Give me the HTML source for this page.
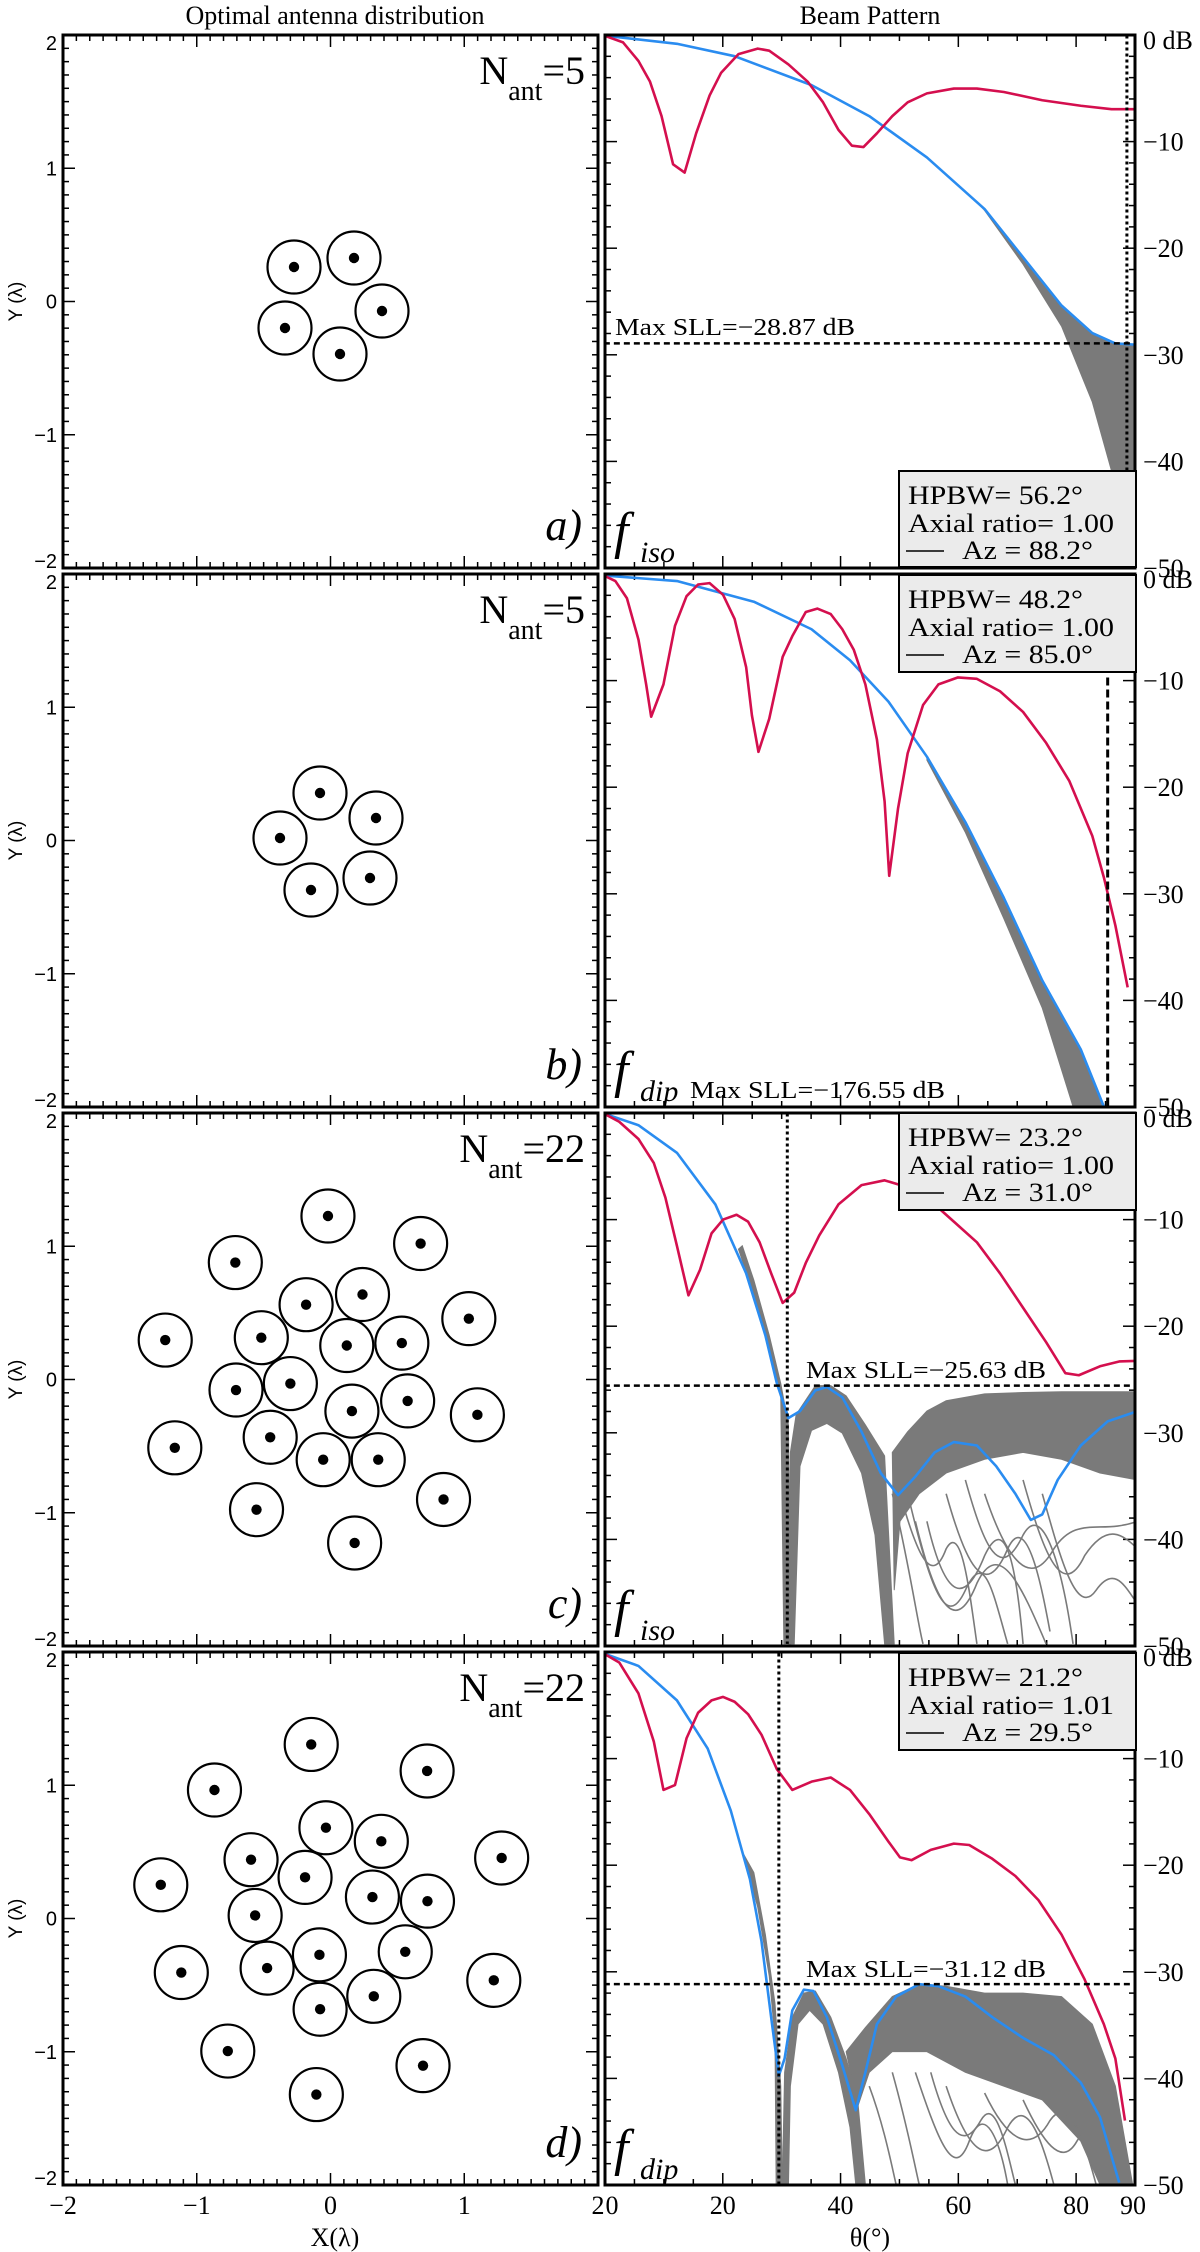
<!DOCTYPE html>
<html><head><meta charset="utf-8"><style>
html,body{margin:0;padding:0;background:#fff;}
svg{display:block;}
text{font-family:"Liberation Serif",serif;fill:#000;}
.sans{font-family:"Liberation Sans",sans-serif;}
</style></head><body>
<svg id="s" xmlns="http://www.w3.org/2000/svg" width="1200" height="2252" viewBox="0 0 1200 2252"></svg>
<script>
var T=[35,574,1113,1652],H=533,LX0=63,LX1=598,RX0=605,RX1=1135;
var o='';
function ln(x1,y1,x2,y2,w){o+='<line x1="'+x1+'" y1="'+y1+'" x2="'+x2+'" y2="'+y2+'" stroke="#000" stroke-width="'+(w||1.5)+'"/>';}
// titles
o+='<text x="335" y="24" font-size="26" text-anchor="middle">Optimal antenna distribution</text>';
o+='<text x="870" y="24" font-size="26" text-anchor="middle">Beam Pattern</text>';
o+='<defs>';
for(var p=0;p<4;p++){o+='<clipPath id="cr'+p+'"><rect x="'+RX0+'" y="'+T[p]+'" width="'+(RX1-RX0)+'" height="'+H+'"/></clipPath>';}
o+='</defs>';
var letters=['a)','b)','c)','d)'],nant=['5','5','22','22'],fs=['iso','dip','iso','dip'];
for(var p=0;p<4;p++){
 var t=T[p],b=t+H;
 // left panel ticks
 var sx=(LX1-LX0)/4;
 for(var i=0;i<=40;i++){
  var x=LX0+i*sx/10,len=(i%10==0)?12:6;
  ln(x,b,x,b-len,1.5);ln(x,t,x,t+len,1.5);
  var y=t+i*H/40;
  ln(LX0,y,LX0+len,y,1.5);ln(LX1,y,LX1-len,y,1.5);
 }
 o+='<rect x="'+LX0+'" y="'+t+'" width="'+(LX1-LX0)+'" height="'+H+'" fill="none" stroke="#000" stroke-width="3"/>';
 // y labels
 var labs=['2','1','0','\u22121','\u22122'];
 for(var k=0;k<5;k++){
  var yy=t+k*H/4, base=(k==0)?yy+15:(k==4?yy:yy+7);
  o+='<text class="sans" x="57" y="'+base+'" font-size="20" text-anchor="end">'+labs[k]+'</text>';
 }
 o+='<text class="sans" font-size="19" text-anchor="middle" transform="translate(22,'+(t+H/2)+') rotate(-90)">Y (\u03bb)</text>';
 o+='<text x="585" y="'+(t+49)+'" font-size="40" text-anchor="end">N<tspan dy="16" font-size="28">ant</tspan><tspan dy="-16">='+nant[p]+'</tspan></text>';
 o+='<text x="582" y="'+(b-28)+'" font-size="44" font-style="italic" text-anchor="end">'+letters[p]+'</text>';
 // right panel ticks
 var dx=(RX1-RX0)/90;
 for(var d=0;d<=90;d+=5){var x=RX0+d*dx,len=(d%20==0)?12:6; if(d==90)continue; ln(x,b,x,b-len,1.5);ln(x,t,x,t+len,1.5);}
 for(var db=0;db<=50;db+=2){var y=t+db*H/50,len=(db%10==0)?12:6; ln(RX0,y,RX0+len,y,1.5);ln(RX1,y,RX1-len,y,1.5);}
 for(var db=0;db<=50;db+=10){var y=t+db*H/50; var lb=db==0?'0 dB':'\u2212'+db; o+='<text x="1143" y="'+(y+(db==0?14:9))+'" font-size="26">'+lb+'</text>';}
}
// antennas
function ant(x,y){o+='<circle cx="'+x+'" cy="'+y+'" r="26.5" fill="none" stroke="#000" stroke-width="2.2"/><circle cx="'+x+'" cy="'+y+'" r="5.2" fill="#000"/>';}
[[294,267],[354,258],[382,311],[285,328],[340,354]].forEach(function(a){ant(a[0],a[1]);});
[[320,793],[376,818],[280,838],[311,890],[370,878]].forEach(function(a){ant(a[0],a[1]);});
var C=[[775,303],[1046,384],[504,440],[876,534],[711,564],[1187,605],[299,668],[580,661],[830,684],[991,677],[506,815],[665,796],[1008,847],[845,877],[1212,888],[606,954],[327,985],[761,1020],[922,1020],[566,1167],[1113,1137],[853,1265]];
var D=[[726,272],[1065,350],[443,406],[769,517],[931,557],[1283,606],[550,611],[708,663],[286,685],[905,721],[1066,733],[562,775],[1001,882],[750,891],[346,943],[597,930],[1260,966],[909,1013],[752,1051],[482,1174],[1053,1217],[741,1302]];
C.forEach(function(a){ant(63+a[0]*0.3419,T[2]+a[1]*0.3399);});
D.forEach(function(a){ant(63+a[0]*0.3419,T[3]+a[1]*0.3399);});
// curves
function pts(a){return a.map(function(q){return q[0]+','+q[1];}).join(' ');}
function pl(a,c,w){return '<polyline points="'+pts(a)+'" fill="none" stroke="'+c+'" stroke-width="'+w+'" stroke-linejoin="round" vector-effect="non-scaling-stroke"/>';}
function pg(a){return '<polygon points="'+pts(a)+'" fill="#7a7a7a" stroke="#7a7a7a" stroke-width="1" vector-effect="non-scaling-stroke"/>';}
function gp(d){return '<path d="'+d+'" fill="none" stroke="#7a7a7a" stroke-width="1.6" vector-effect="non-scaling-stroke"/>';}
var RED='#d40f4e',BLUE='#2a8cf0';
var sxx=0.3846,syy=0.6888;
function grp(p,oy,inner){o+='<g clip-path="url(#cr'+p+')"><g transform="translate(600,'+oy+') scale('+sxx+','+syy+')">'+inner+'</g></g>';}
// panel a
var s='';
s+=pg([[980,250],[1000,260],[1100,330],[1200,400],[1280,440],[1340,455],[1398,457],[1398,640],[1330,640],[1280,540],[1200,430],[1100,340],[1000,262]]);
s+=pl([[10,8],[200,20],[350,38],[550,80],[700,125],[850,185],[1000,260],[1100,330],[1200,400],[1280,440],[1340,455],[1398,457]],BLUE,2.6);
s+=pl([[10,8],[60,18],[100,45],[130,75],[160,125],[190,195],[220,207],[250,150],[285,95],[315,62],[360,35],[410,27],[440,30],[490,50],[540,75],[580,105],[620,145],[655,168],[685,170],[720,150],[760,125],[800,105],[850,92],[920,85],[980,85],[1050,90],[1150,102],[1250,110],[1330,115],[1398,115]],RED,2.6);
s+='<line x1="1370" y1="8" x2="1370" y2="780" stroke="#000" stroke-width="3" stroke-dasharray="3,3" vector-effect="non-scaling-stroke"/>';
s+='<line x1="10" y1="455" x2="1398" y2="455" stroke="#000" stroke-width="2.5" stroke-dasharray="6,4" vector-effect="non-scaling-stroke"/>';
grp(0,30,s);
// panel b
s='';
s+=pg([[850,1055],[950,1150],[1050,1260],[1150,1380],[1250,1480],[1310,1563],[1230,1563],[1150,1420],[1050,1290],[950,1165],[850,1060]]);
s+=pl([[10,792],[200,800],[400,830],[550,870],[650,915],[750,975],[850,1055],[950,1150],[1050,1260],[1150,1380],[1250,1480],[1310,1563]],BLUE,2.6);
s+=pl([[10,792],[40,800],[70,825],[100,885],[120,950],[133,997],[165,950],[195,865],[225,822],[255,805],[285,803],[320,820],[350,855],[380,925],[395,995],[412,1048],[440,1000],[475,910],[500,880],[535,845],[565,840],[600,848],[630,870],[660,900],[690,950],[720,1030],[740,1120],[752,1228],[775,1130],[800,1050],[840,980],[880,950],[930,940],[980,942],[1040,960],[1100,990],[1160,1035],[1220,1090],[1280,1170],[1310,1230],[1340,1300],[1372,1390]],RED,2.6);
s+='<line x1="1320" y1="940" x2="1320" y2="1563" stroke="#000" stroke-width="3" stroke-dasharray="8,4" vector-effect="non-scaling-stroke"/>';
grp(1,30,s);
// panel c
s='';
s+=pg([[360,205],[400,270],[440,350],[470,420],[478,778],[496,778],[490,460],[470,400],[440,330],[400,250],[370,200]]);
s+=pg([[490,778],[495,500],[510,445],[560,403],[600,403],[640,418],[690,460],[740,505],[765,778],[740,778],[715,620],[680,530],[630,472],[590,458],[550,468],[520,520],[505,778]]);
s+=pg([[760,500],[800,470],[850,440],[900,425],[1000,415],[1100,413],[1200,412],[1300,412],[1398,412],[1398,540],[1300,530],[1200,510],[1100,500],[1000,510],[900,530],[830,560],[780,600],[765,700]]);
['M760,560 C800,650 830,760 840,778','M800,560 C860,700 900,760 950,700 C1000,640 1020,700 1060,778','M820,600 C880,740 930,760 980,690 C1040,620 1100,700 1160,778','M900,560 C950,660 1000,720 1060,640 C1110,580 1150,700 1170,760','M1000,560 C1060,660 1120,700 1180,640 C1240,590 1300,620 1398,600','M1100,540 C1150,640 1200,720 1260,650 C1320,600 1360,620 1398,640','M850,600 C900,720 950,720 1000,650 C1050,590 1080,650 1100,778','M1150,560 C1200,660 1240,740 1290,700 C1340,660 1370,700 1398,720','M780,560 C820,640 860,700 900,640 C940,600 960,700 980,778','M950,540 C1000,640 1040,690 1100,620 C1150,570 1200,660 1230,778'].forEach(function(d){s+=gp(d);});
s+=pl([[10,8],[100,25],[200,65],[300,140],[380,240],[430,330],[460,400],[490,450],[520,440],[560,410],[590,405],[630,420],[680,470],[730,530],[775,562],[820,535],[870,500],[920,485],[980,490],[1030,520],[1080,560],[1120,598],[1150,590],[1190,540],[1250,490],[1320,455],[1398,440]],BLUE,2.6);
s+=pl([[10,8],[50,20],[100,45],[140,80],[170,130],[200,200],[230,272],[260,235],[290,182],[320,162],[355,155],[385,165],[415,195],[445,240],[475,283],[505,268],[535,225],[570,185],[620,140],[680,112],[740,105],[800,115],[860,135],[920,165],[980,195],[1040,240],[1100,290],[1160,340],[1210,385],[1245,388],[1300,375],[1350,368],[1398,367]],RED,2.6);
s+='<line x1="487" y1="8" x2="487" y2="778" stroke="#000" stroke-width="3" stroke-dasharray="3,3" vector-effect="non-scaling-stroke"/>';
s+='<line x1="10" y1="403" x2="1398" y2="403" stroke="#000" stroke-width="2.5" stroke-dasharray="6,4" vector-effect="non-scaling-stroke"/>';
grp(2,1108,s);
// panel d
s='';
s+=pg([[370,1080],[410,1160],[440,1260],[455,1350],[458,1563],[474,1563],[470,1420],[455,1300],[430,1200],[400,1110]]);
s+=pg([[474,1563],[480,1400],[500,1320],[530,1285],[560,1282],[600,1320],[640,1380],[670,1440],[690,1563],[665,1563],[650,1480],[620,1400],[580,1330],[545,1310],[515,1330],[495,1420],[490,1563]]);
s+=pg([[640,1370],[690,1335],[760,1290],[830,1272],[900,1275],[1000,1285],[1100,1285],[1200,1290],[1280,1330],[1340,1420],[1385,1563],[1300,1563],[1250,1500],[1150,1440],[1050,1420],[950,1400],[850,1370],[760,1370],[700,1400],[670,1450]]);
['M760,1400 C800,1480 820,1540 830,1563','M820,1400 C880,1500 920,1560 960,1500 C1000,1440 1040,1500 1060,1563','M900,1420 C960,1520 1010,1540 1060,1480 C1110,1430 1150,1500 1180,1563','M1000,1430 C1060,1500 1120,1520 1170,1470 C1220,1430 1260,1500 1290,1563','M700,1420 C740,1480 760,1540 770,1563','M860,1400 C900,1480 940,1520 990,1470 C1030,1430 1060,1520 1080,1563','M1100,1440 C1150,1500 1200,1540 1240,1500 C1270,1470 1290,1520 1300,1563'].forEach(function(d){s+=gp(d);});
s+=pl([[10,792],[100,810],[200,860],[280,930],[340,1020],[390,1120],[420,1210],[445,1320],[465,1405],[480,1380],[500,1310],[530,1280],[555,1282],[590,1320],[630,1390],[665,1455],[690,1400],[720,1330],[770,1290],[830,1272],[880,1275],[950,1290],[1020,1320],[1100,1350],[1180,1375],[1250,1415],[1300,1465],[1350,1560]],BLUE,2.6);
s+=pl([[10,792],[50,805],[100,850],[140,920],[165,990],[195,983],[225,915],[255,878],[290,860],[320,855],[350,862],[385,880],[420,910],[460,960],[500,990],[550,978],[600,972],[650,990],[700,1025],[750,1065],[780,1088],[810,1092],[860,1077],[920,1068],[960,1070],[1020,1090],[1080,1115],[1140,1150],[1200,1200],[1260,1265],[1310,1330],[1340,1380],[1365,1470]],RED,2.6);
s+='<line x1="465" y1="792" x2="465" y2="1563" stroke="#000" stroke-width="3" stroke-dasharray="3,3" vector-effect="non-scaling-stroke"/>';
s+='<line x1="10" y1="1272" x2="1398" y2="1272" stroke="#000" stroke-width="2.5" stroke-dasharray="6,4" vector-effect="non-scaling-stroke"/>';
grp(3,1108,s);
// right panel borders
for(var p=0;p<4;p++){o+='<rect x="'+RX0+'" y="'+T[p]+'" width="'+(RX1-RX0)+'" height="'+H+'" fill="none" stroke="#000" stroke-width="3"/>';}
// f labels
for(var p=0;p<4;p++){var b=T[p]+H;o+='<text x="614" y="'+(b-20)+'" font-size="52" font-style="italic">f</text><text x="640" y="'+(b-6)+'" font-size="30" font-style="italic">'+fs[p]+'</text>';}
// max SLL text
function tx(x,y,str,len){o+='<text x="'+x+'" y="'+y+'" font-size="24" textLength="'+len+'" lengthAdjust="spacingAndGlyphs">'+str+'</text>';}
tx(615,335,'Max SLL=\u221228.87 dB',240);
tx(690,1098,'Max SLL=\u2212176.55 dB',255);
tx(806,1378,'Max SLL=\u221225.63 dB',240);
tx(806,1977,'Max SLL=\u221231.12 dB',240);
// legends
function leg(y0,h,l1,l2,l3){
 o+='<rect x="899" y="'+y0+'" width="237" height="'+h+'" fill="#ebebeb" stroke="#000" stroke-width="2"/>';
 var t1=y0+33,t2=y0+61,t3=y0+88;
 o+='<text x="908" y="'+t1+'" font-size="26" textLength="175" lengthAdjust="spacingAndGlyphs">'+l1+'</text>';
 o+='<text x="908" y="'+t2+'" font-size="26" textLength="206" lengthAdjust="spacingAndGlyphs">'+l2+'</text>';
 o+='<line x1="906" y1="'+(t3-8)+'" x2="944" y2="'+(t3-8)+'" stroke="#000" stroke-width="1.5"/>';
 o+='<text x="962" y="'+t3+'" font-size="26" textLength="131" lengthAdjust="spacingAndGlyphs">'+l3+'</text>';
}
leg(471,96,'HPBW= 56.2\u00b0','Axial ratio= 1.00','Az = 88.2\u00b0');
leg(575,97,'HPBW= 48.2\u00b0','Axial ratio= 1.00','Az = 85.0\u00b0');
leg(1113,97,'HPBW= 23.2\u00b0','Axial ratio= 1.00','Az = 31.0\u00b0');
leg(1653,97,'HPBW= 21.2\u00b0','Axial ratio= 1.01','Az = 29.5\u00b0');
// bottom labels
var xl=['\u22122','\u22121','0','1','2'];
for(var k=0;k<5;k++){o+='<text x="'+(LX0+k*(LX1-LX0)/4)+'" y="2214" font-size="26" text-anchor="middle">'+xl[k]+'</text>';}
[0,20,40,60,80,90].forEach(function(d){var x=RX0+d*(RX1-RX0)/90; if(d==0)x+=7; if(d==90)x-=2; o+='<text x="'+x+'" y="2214" font-size="26" text-anchor="middle">'+d+'</text>';});
o+='<text x="335" y="2246" font-size="26" text-anchor="middle">X(\u03bb)</text>';
o+='<text x="870" y="2246" font-size="26" text-anchor="middle">\u03b8(\u00b0)</text>';
document.getElementById('s').innerHTML=o;
</script>
</body></html>
